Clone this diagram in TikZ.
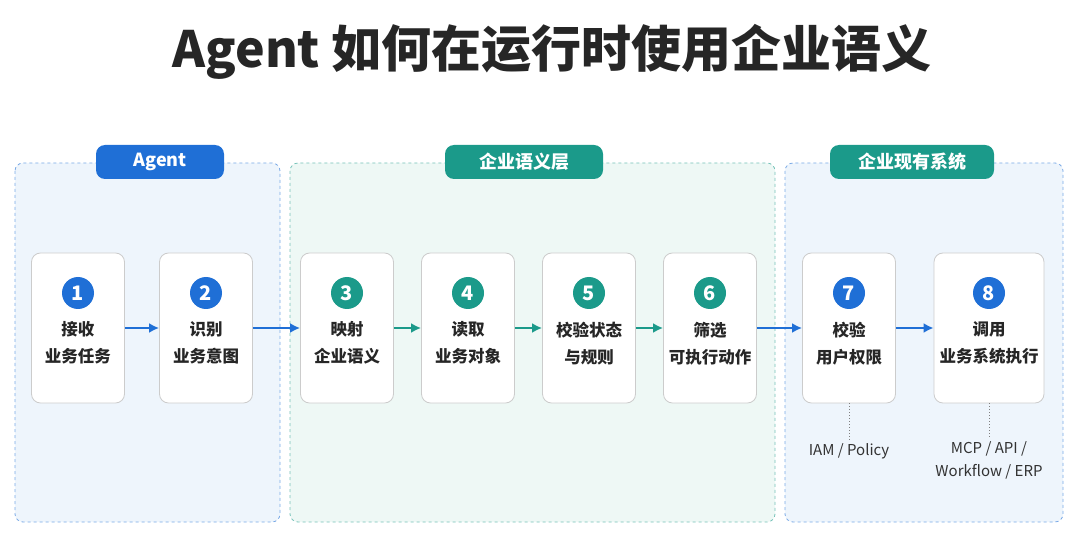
\documentclass[tikz,border=0pt]{standalone}
\usepackage{fontspec}
\setmainfont{Noto Sans CJK SC}
\usetikzlibrary{positioning,calc,fit,arrows.meta}
\definecolor{agblue}{HTML}{1F6FD6}
\definecolor{agteal}{HTML}{1B9A8A}
\definecolor{bgblue}{HTML}{EEF5FC}
\definecolor{bgteal}{HTML}{EEF8F5}
\tikzset{
  group/.style={draw=#1!60, dashed, rounded corners=8pt, line width=0.8pt},
  pill/.style={fill=#1, text=white, rounded corners=9pt, minimum height=34pt, font=\bfseries\fontsize{18}{18}\selectfont},
  card/.style={draw=gray!40, fill=white, rounded corners=9pt, minimum width=93pt, minimum height=150pt, line width=0.8pt},
  num/.style={circle, fill=#1, text=white, minimum size=32pt, inner sep=0pt, font=\bfseries\fontsize{20}{20}\selectfont},
  steptext/.style={align=center, font=\bfseries\fontsize{16.5}{27}\selectfont, text=black!85},
  flow/.style={-{Latex[length=10pt,width=10pt]}, line width=2.4pt, draw=#1},
  note/.style={font=\fontsize{15}{23}\selectfont, align=center, text=black!80}
}
\begin{document}
\begin{tikzpicture}[x=1pt,y=-1pt]
  \useasboundingbox (0,0) rectangle (1080,548);
  \node[font=\bfseries\fontsize{50}{50}\selectfont, text=black!85] (title) at (552,52) {Agent 如何在运行时使用企业语义};
  % groups
  \draw[group=agblue, fill=bgblue] (15,163) rectangle (280,522);
  \draw[group=agteal, fill=bgteal] (290,163) rectangle (775,522);
  \draw[group=agblue, fill=bgblue] (785,163) rectangle (1063,522);
  \node[pill=agblue, minimum width=128pt] (pagent) at (160,162) {Agent};
  \node[pill=agteal, minimum width=158pt] (psem) at (524,162) {企业语义层};
  \node[pill=agteal, minimum width=164pt] (psys) at (912,162) {企业现有系统};
  % cards
  \foreach \i/\x/\w/\c/\t in {1/78/93/agblue/{接收\\业务任务}, 2/206/93/agblue/{识别\\业务意图},
      3/347/93/agteal/{映射\\企业语义}, 4/468/93/agteal/{读取\\业务对象}, 5/589/93/agteal/{校验状态\\与规则},
      6/710/93/agteal/{筛选\\可执行动作}, 7/849/93/agblue/{校验\\用户权限}, 8/989/110/agblue/{调用\\业务系统执行}} {
    \node[card, minimum width=\w pt] (c\i) at (\x,328) {};
    \node[num=\c] (n\i) at (\x,293) {\i};
    \node[steptext, below=9pt of n\i] (t\i) {\t};
  }
  % arrows
  \draw[flow=agblue] (c1) -- (c2);
  \draw[flow=agblue] (c2) -- (c3);
  \draw[flow=agteal] (c3) -- (c4);
  \draw[flow=agteal] (c4) -- (c5);
  \draw[flow=agteal] (c5) -- (c6);
  \draw[flow=agblue] (c6) -- (c7);
  \draw[flow=agblue] (c7) -- (c8);
  % notes
  \node[note] (iam) at (849,451) {IAM / Policy};
  \node[note, anchor=north] (mcp) at (989,438) {MCP / API /\\Workflow / ERP};
  \draw[gray, dotted, line width=1pt] (c7) -- (iam);
  \draw[gray, dotted, line width=1pt] (c8) -- (mcp);
\end{tikzpicture}
\end{document}
